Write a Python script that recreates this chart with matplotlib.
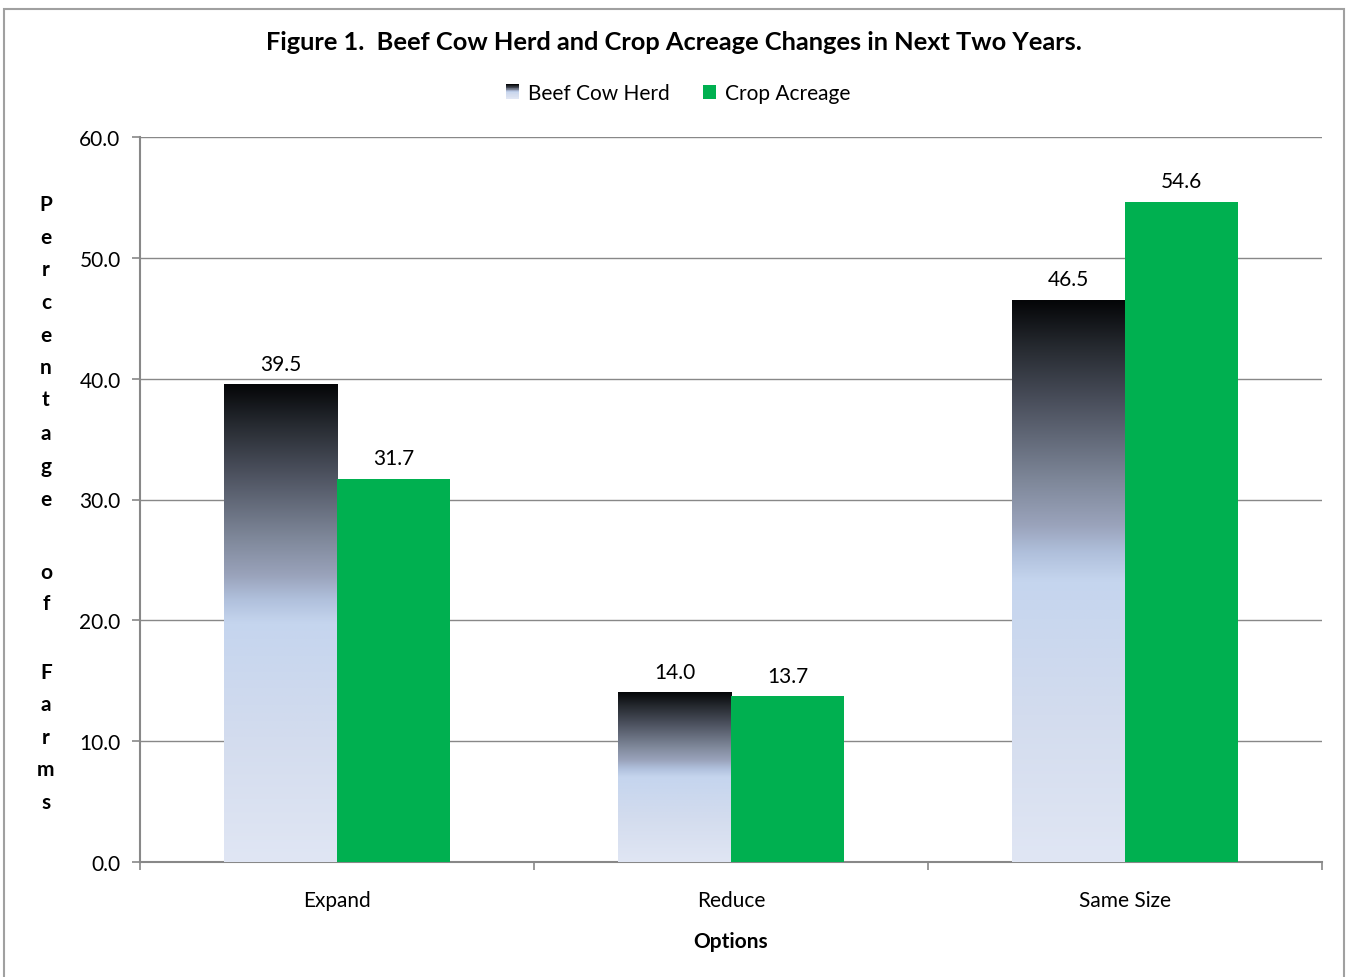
import numpy as np
import matplotlib
matplotlib.use("Agg")
import matplotlib.pyplot as plt
from matplotlib.colors import LinearSegmentedColormap
from matplotlib.patches import Rectangle
from matplotlib.legend_handler import HandlerBase

categories = ["Expand", "Reduce", "Same Size"]
beef_cow_herd = [39.5, 14.0, 46.5]
crop_acreage = [31.7, 13.7, 54.6]
series_names = ["Beef Cow Herd", "Crop Acreage"]
yticks = [0, 10, 20, 30, 40, 50, 60]

plt.rcParams['font.family'] = ['Lato', 'DejaVu Sans']

W, H = 1346, 978
fig = plt.figure(figsize=(W / 100, H / 100), dpi=100)
ax = fig.add_axes([140 / W, 1 - 863 / H, (1322 - 140) / W, (863 - 138) / H])

grad_cmap = LinearSegmentedColormap.from_list("beef", [
    (0.0, "#e0e6f4"), (0.26, "#d3dcee"), (0.5, "#c5d5ee"), (0.55, "#b0c0dc"),
    (0.6, "#9aa3bb"), (0.68, "#7e8799"), (0.82, "#4a4f5c"), (0.92, "#25292f"),
    (1.0, "#050608")])
green = "#00b050"
gray = "#888888"
fs = 15

x = np.arange(len(categories))
bw = 0.287
grad = np.linspace(0, 1, 256).reshape(-1, 1)

for xi, v in zip(x, beef_cow_herd):
    x0 = xi - bw
    ax.imshow(grad, cmap=grad_cmap, origin="lower", aspect="auto",
              extent=[x0, xi, 0, v], zorder=3, interpolation="bilinear")
    ax.text(xi - bw / 2, v + 0.9, f"{v:.1f}", ha="center", va="bottom", fontsize=fs, zorder=5)

ax.bar(x + bw / 2, crop_acreage, width=bw, color=green, zorder=3)
for xi, v in zip(x, crop_acreage):
    ax.text(xi + bw / 2, v + 0.9, f"{v:.1f}", ha="center", va="bottom", fontsize=fs, zorder=5)

ax.set_xlim(-0.5, 2.5)
ax.set_ylim(0, 60)
ax.set_yticks(yticks)
ax.set_yticklabels([f"{t:.1f}" for t in yticks], fontsize=fs)
ax.set_xticks(x)
ax.set_xticklabels(categories, fontsize=fs)
ax.tick_params(axis="x", length=0, pad=20)
ax.set_xticks([-0.5, 0.5, 1.5, 2.5], minor=True)
ax.tick_params(axis="x", which="minor", length=6, color=gray, width=1.2)
ax.tick_params(axis="y", length=6, color=gray, width=1.2, pad=8)
ax.grid(axis="y", color=gray, linewidth=1.0, zorder=0)
ax.set_axisbelow(True)
for s in ["top", "right"]:
    ax.spines[s].set_visible(False)
for s in ["left", "bottom"]:
    ax.spines[s].set_color(gray)
    ax.spines[s].set_linewidth(1.5)
ax.set_xlabel("Options", fontsize=fs, fontweight="bold", labelpad=15)

# Title
fig.text(674 / W, 1 - 43 / H, "Figure 1.  Beef Cow Herd and Crop Acreage Changes in Next Two Years.",
         ha="center", va="center", fontsize=18.3, fontweight="bold")

# Stacked y label
ylabel_chars = list("Percentage") + ["o", "f"] + list("Farms")
ylabel_y = [205, 238, 270, 303, 336, 368, 400, 434, 467, 500, 573, 604, 673, 705, 738, 770, 803]
for ch, yy in zip(ylabel_chars, ylabel_y):
    fig.text(46 / W, 1 - yy / H, ch, ha="center", va="center", fontsize=fs, fontweight="bold")


class GradHandler(HandlerBase):
    def create_artists(self, legend, orig_handle, xdescent, ydescent, width, height, fontsize, trans):
        n = 20
        arts = []
        for i in range(n):
            c = grad_cmap(i / (n - 1))
            r = Rectangle((0, -ydescent + height * i / n), width, height / n + 0.2,
                          facecolor=c, edgecolor="none", transform=trans)
            arts.append(r)
        return arts


h1 = Rectangle((0, 0), 1, 1, facecolor="#555555")
h2 = Rectangle((0, 0), 1, 1, facecolor=green)
leg = fig.legend([h1, h2], series_names, loc="center", bbox_to_anchor=(678 / W, 1 - 94 / H),
                 ncol=2, frameon=False, fontsize=fs, handlelength=0.65, handleheight=0.65,
                 handletextpad=0.4, columnspacing=1.6,
                 handler_map={h1: GradHandler()})

# Figure border
fig.patches.append(Rectangle((4 / W, -0.01), (1344 - 4) / W, 1 - 10 / H + 0.01,
                             transform=fig.transFigure, fill=False, edgecolor="#a0a0a0",
                             linewidth=1.5))

fig.savefig("out.png", dpi=100)
